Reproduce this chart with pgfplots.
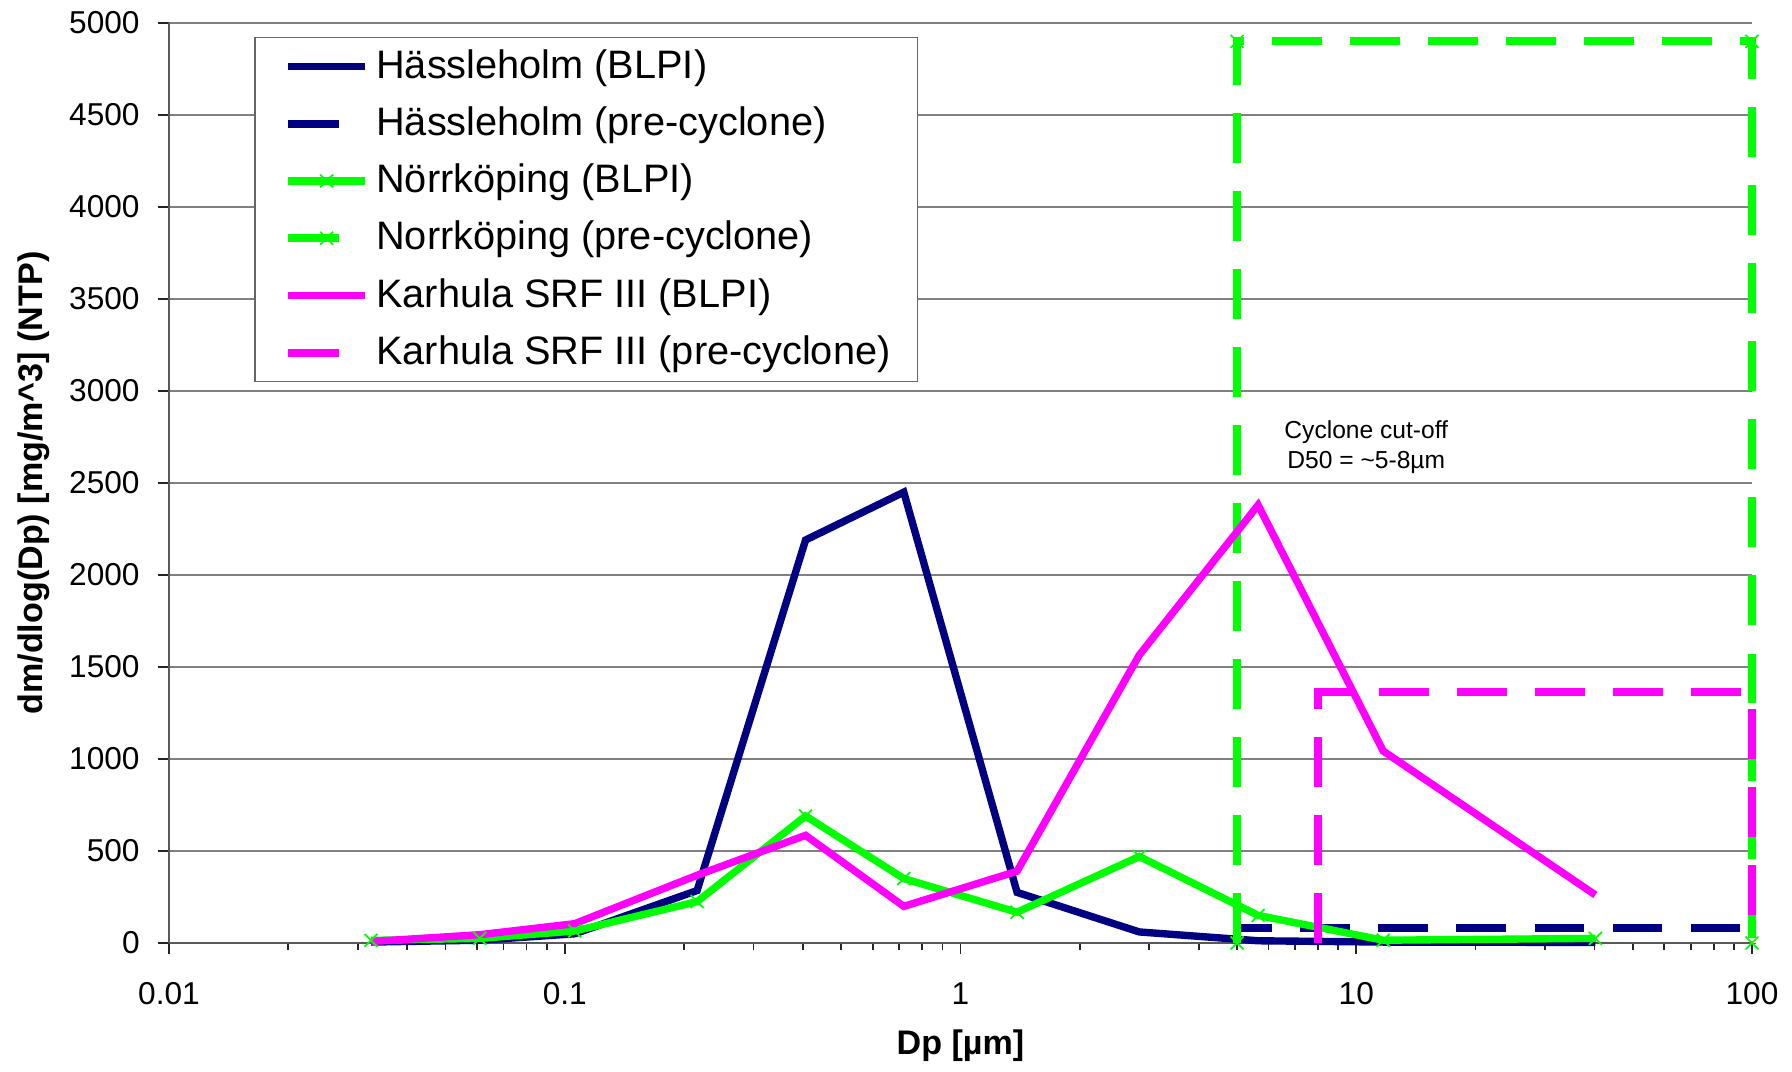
\documentclass[border=0pt]{standalone}
\usepackage{fontspec}
\setmainfont{Liberation Sans}
\usepackage{pgfplots}
\pgfplotsset{compat=1.18}
\definecolor{navy}{RGB}{0,0,128}
\definecolor{lgreen}{RGB}{0,255,0}
\definecolor{mag}{RGB}{255,0,255}
\pgfplotsset{
 solidleg/.style={legend image code/.code={\path (0cm,0cm); \draw[##1,mark repeat=2,mark phase=2] plot coordinates {(0.09cm,0cm) (0.475cm,0cm) (0.86cm,0cm)};}},
 dashleg/.style={legend image code/.code={\path (0cm,0cm) (0.86cm,0cm); \draw[##1,solid,mark repeat=2,mark phase=2] plot coordinates {(0.09cm,0cm) (0.475cm,0cm) (0.60cm,0cm)};}},
}
\begin{document}
\begin{tikzpicture}
\useasboundingbox (-1.69cm,-1.29cm) rectangle (16.23cm,9.43cm);
\begin{axis}[
 at={(0,0)}, anchor=south west,
 scale only axis, width=15.83cm, height=9.20cm,
 xmode=log, xmin=0.01, xmax=100, ymin=0, ymax=5000,
 axis x line*=bottom, axis y line*=left,
 axis line style={-, black!65, line width=0.6pt},
 xtick={0.01,0.1,1,10,100}, xticklabels={0.01,0.1,1,10,100},
 minor xtick={0.02,0.03,0.04,0.05,0.06,0.07,0.08,0.09,0.2,0.3,0.4,0.5,0.6,0.7,0.8,0.9,2,3,4,5,6,7,8,9,20,30,40,50,60,70,80,90},
 ytick={0,500,...,5000},
 tick align=outside,
 major tick length=0.11cm, minor tick length=0.07cm,
 tick style={black!85, line width=0.5pt},
 ymajorgrids, grid style={gray, line width=0.5pt},
 ticklabel style={font=\fontsize{9}{10}\selectfont},
 /pgf/number format/assume math mode=true,
 /pgf/number format/1000 sep={},
 xticklabel style={yshift=-0.16cm},
 yticklabel style={xshift=-0.06cm},
 xlabel={Dp [µm]},
 ylabel={dm/dlog(Dp) [mg/m\textasciicircum 3] (NTP)},
 label style={font=\bfseries\fontsize{9.7}{11}\selectfont},
 xlabel style={at={(axis description cs:0.5,0)}, anchor=center, yshift=-1.03cm},
 ylabel style={at={(axis description cs:-0.0853,0.5)}, anchor=center},
 clip=false,
 legend cell align=left,
 legend style={at={(rel axis cs:0.054,0.985)}, anchor=north west, draw=black!60,
   font=\fontsize{11.3}{13}\selectfont, inner xsep=0.20cm, inner ysep=0.12cm,
   row sep=6.6pt, nodes={inner ysep=0pt, inner xsep=0.07cm}},
]
\addplot[navy, line width=2.1pt, solidleg] coordinates {
 (0.0324,5) (0.0610,15) (0.106,50) (0.216,285) (0.406,2190) (0.719,2450)
 (1.39,275) (2.83,60) (5.65,12) (11.7,5) (40.2,3)};
\addlegendentry{Hässleholm (BLPI)}
\addplot[navy, line width=2.3pt, dash pattern=on 14.2pt off 8pt, dashleg] coordinates {
 (5,0) (5,80) (100,80) (100,0)};
\addlegendentry{Hässleholm (pre-cyclone)}
\addplot[lgreen, line width=2.1pt, mark=x, mark size=2.6pt, mark options={solid,line width=0.5pt}, solidleg] coordinates {
 (0.0324,14) (0.0610,25) (0.106,65) (0.216,225) (0.406,690) (0.719,350)
 (1.39,167) (2.83,470) (5.65,150) (11.7,15) (40.2,25)};
\addlegendentry{Nörrköping (BLPI)}
\addplot[lgreen, line width=2.3pt, dash pattern=on 14.2pt off 8pt, mark=x, mark size=2.6pt, mark options={solid,line width=0.5pt}, dashleg] coordinates {
 (5,0) (5,4900) (100,4900) (100,0)};
\addlegendentry{Norrköping (pre-cyclone)}
\addplot[mag, line width=2.1pt, solidleg] coordinates {
 (0.0324,8) (0.0610,45) (0.106,105) (0.216,368) (0.406,585) (0.719,199)
 (1.39,390) (2.83,1565) (5.65,2380) (11.7,1043) (40.2,261)};
\addlegendentry{Karhula SRF III (BLPI)}
\addplot[mag, line width=2.3pt, dash pattern=on 14.2pt off 8pt, dashleg] coordinates {
 (8,0) (8,1365) (100,1365) (100,0)};
\addlegendentry{Karhula SRF III (pre-cyclone)}
\node[font=\fontsize{7}{8.5}\selectfont, align=center] at (axis cs:10.6,2695) {Cyclone cut-off\\D50 = \textasciitilde5-8µm};
\end{axis}
\end{tikzpicture}
\end{document}
